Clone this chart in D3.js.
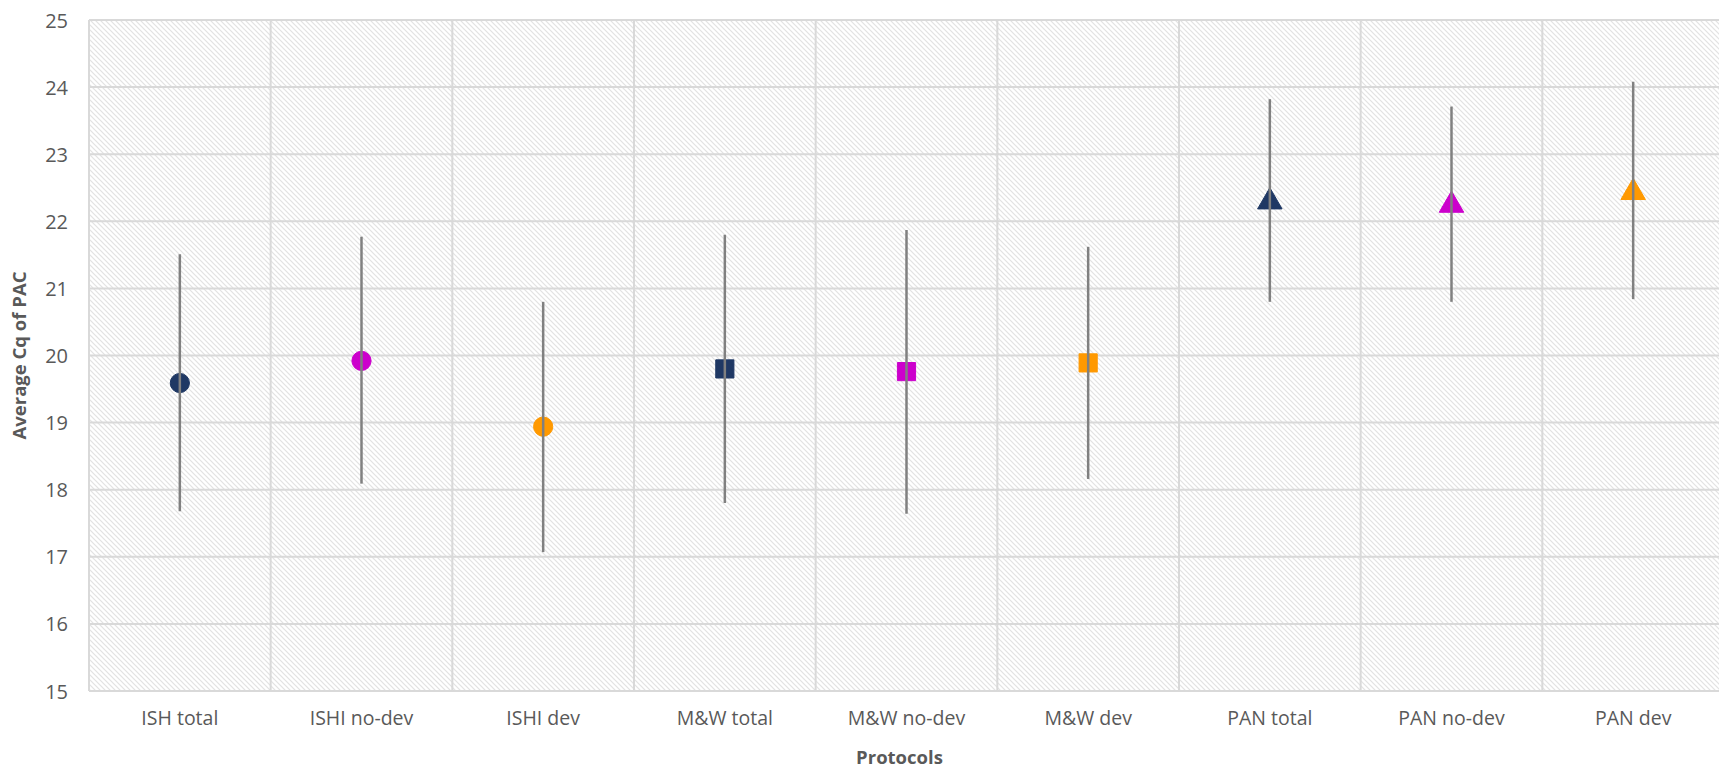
<!DOCTYPE html>
<html lang="en">
  <head>
    <meta charset="utf-8">
    <title>Average Cq of PAC</title>
    <script src="https://cdn.jsdelivr.net/npm/d3@7"></script>
<style>
body { margin: 0; background: #fff; }
svg text { font-family: "Open Sans", "Noto Sans", sans-serif; fill: #595959; }
</style>
  </head>
  <body>
    <script>
      // values
      var protocols = ["ISH total", "ISHI no-dev", "ISHI dev", "M&W total", "M&W no-dev", "M&W dev", "PAN total", "PAN no-dev", "PAN dev"];
      var means = [19.59, 19.92, 18.94, 19.80, 19.76, 19.89, 22.29, 22.24, 22.43];
      var upper = [21.51, 21.77, 20.80, 21.80, 21.87, 21.62, 23.82, 23.71, 24.08];
      var lower = [17.68, 18.09, 17.07, 17.80, 17.64, 18.16, 20.80, 20.80, 20.84];
      var shapes = ["circle", "circle", "circle", "square", "square", "square", "triangle", "triangle", "triangle"];
      var colours = ["#1f3864", "#cc00cc", "#ff9900", "#1f3864", "#cc00cc", "#ff9900", "#1f3864", "#cc00cc", "#ff9900"];
      var yTicks = [15, 16, 17, 18, 19, 20, 21, 22, 23, 24, 25];

      var width = 1719, height = 770;
      // note: "top" is taken by window.top, so use plot* names
      var plotLeft = 89, plotRight = 1724, plotTop = 20, plotBottom = 691;

      var svg = d3.select("body").append("svg")
        .attr("width", width)
        .attr("height", height);

      // hatched plot background
      var pat = svg.append("defs").append("pattern")
        .attr("id", "hatch")
        .attr("patternUnits", "userSpaceOnUse")
        .attr("width", 5)
        .attr("height", 5);
      pat.append("rect").attr("width", 5).attr("height", 5).attr("fill", "#fff");
      pat.append("path")
        .attr("d", "M-1,-1 L6,6 M-1,4 L1,6 M4,-1 L6,1")
        .attr("stroke", "#e2e2e2")
        .attr("stroke-width", 1.2);

      var x = d3.scaleBand().domain(protocols).range([plotLeft, plotRight]);
      var y = d3.scaleLinear().domain([15, 25]).range([plotBottom, plotTop]);

      svg.append("rect")
        .attr("x", plotLeft).attr("y", plotTop)
        .attr("width", plotRight - plotLeft).attr("height", plotBottom - plotTop)
        .attr("fill", "url(#hatch)");

      // gridlines
      svg.append("g").selectAll("line")
        .data(yTicks)
        .enter().append("line")
        .attr("x1", plotLeft).attr("x2", plotRight)
        .attr("y1", function(d) { return y(d); })
        .attr("y2", function(d) { return y(d); })
        .attr("stroke", "#d9d9d9")
        .attr("stroke-width", 2);
      svg.append("g").selectAll("line")
        .data(protocols)
        .enter().append("line")
        .attr("x1", function(d) { return x(d); })
        .attr("x2", function(d) { return x(d); })
        .attr("y1", plotTop).attr("y2", plotBottom)
        .attr("stroke", "#d9d9d9")
        .attr("stroke-width", 2);

      // axes
      var yAxis = svg.append("g")
        .attr("transform", "translate(" + (plotLeft - 21) + ",0)")
        .call(d3.axisLeft(y).tickValues(yTicks).tickSize(0).tickPadding(0));
      yAxis.select(".domain").remove();
      yAxis.selectAll("text").attr("font-size", 20).attr("dy", "0.35em");

      var xAxis = svg.append("g")
        .attr("transform", "translate(0," + (plotBottom + 20) + ")")
        .call(d3.axisBottom(x).tickSize(0).tickPadding(0));
      xAxis.select(".domain").remove();
      xAxis.selectAll("text").attr("font-size", 19.5).attr("dy", "0.71em");

      svg.append("text")
        .attr("x", (plotLeft + 1716) / 2 - 3)
        .attr("y", 764)
        .attr("text-anchor", "middle")
        .attr("font-size", 18.5)
        .attr("font-weight", "bold")
        .text("Protocols");

      svg.append("text")
        .attr("transform", "translate(26," + ((plotTop + plotBottom) / 2) + ") rotate(-90)")
        .attr("text-anchor", "middle")
        .attr("font-size", 18.5)
        .attr("font-weight", "bold")
        .text("Average Cq of PAC");

      // markers
      var symbolType = { circle: d3.symbolCircle, square: d3.symbolSquare, triangle: d3.symbolTriangle };
      var symbolSize = { circle: 290, square: 330, triangle: 260 };
      svg.append("g").selectAll("path")
        .data(protocols)
        .enter().append("path")
        .attr("transform", function(d, i) {
          return "translate(" + (x(d) + x.bandwidth() / 2) + "," + y(means[i]) + ")";
        })
        .attr("d", function(d, i) {
          return d3.symbol().type(symbolType[shapes[i]]).size(symbolSize[shapes[i]])();
        })
        .attr("fill", function(d, i) { return colours[i]; })
        .attr("stroke", function(d, i) { return colours[i]; })
        .attr("stroke-width", 1)
        .attr("stroke-linejoin", "round");

      // error bars on top of markers
      svg.append("g").selectAll("line")
        .data(protocols)
        .enter().append("line")
        .attr("x1", function(d) { return x(d) + x.bandwidth() / 2; })
        .attr("x2", function(d) { return x(d) + x.bandwidth() / 2; })
        .attr("y1", function(d, i) { return y(upper[i]); })
        .attr("y2", function(d, i) { return y(lower[i]); })
        .attr("stroke", "#808080")
        .attr("stroke-width", 2.5);
    </script>
  </body>
</html>
